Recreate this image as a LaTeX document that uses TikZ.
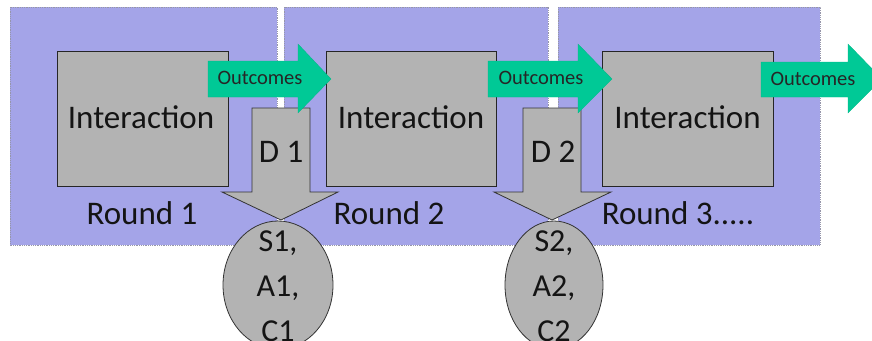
\documentclass[tikz,border=0pt]{standalone}
\usepackage{fontspec}
\setmainfont{Carlito}
\usetikzlibrary{shapes.geometric}
\definecolor{panelc}{RGB}{164,164,232}
\definecolor{panelb}{RGB}{150,150,170}
\definecolor{boxc}{RGB}{179,179,179}
\definecolor{greenc}{RGB}{0,201,150}
\definecolor{txtc}{RGB}{20,20,20}
\tikzset{
  panel/.style={fill=panelc, draw=panelb, densely dotted, line width=0.8pt},
  interbox/.style={fill=boxc, draw=black!85, line width=1pt},
  greenarrow/.style={fill=greenc, draw=greenc!90!black, line width=0.3pt},
  grayarrow/.style={fill=boxc, draw=black!80, line width=0.8pt},
  bigtxt/.style={font=\fontsize{33}{45}\selectfont, text=txtc, inner sep=0pt},
  smalltxt/.style={font=\fontsize{20.5}{24}\selectfont, text=black!85, inner sep=0pt},
  oval/.style={ellipse, fill=boxc, draw=black!80, line width=0.8pt, inner sep=0pt},
  ovaltxt/.style={align=center, inner sep=0pt, font=\fontsize{32}{45}\selectfont, text=txtc}
}
\begin{document}
\begin{tikzpicture}[x=1pt,y=-1pt]
\useasboundingbox (0,0) rectangle (872,340);
% panels
\path[panel] (10,7) rectangle (277,245);
\path[panel] (284,7) rectangle (548,245);
\path[panel] (558,7) rectangle (820,245);
% interaction boxes
\draw[interbox] (57,51) rectangle (228,186);
\draw[interbox] (326,51) rectangle (496,186);
\draw[interbox] (602,51) rectangle (773,186);
\node[bigtxt] (i1) at (141,117) {Interaction};
\node[bigtxt] (i2) at (411,117) {Interaction};
\node[bigtxt] (i3) at (687.5,117) {Interaction};
% round labels
\node[bigtxt] (r1) at (142,213) {Round 1};
\node[bigtxt] (r2) at (389,213) {Round 2};
\node[bigtxt] (r3) at (678,213) {Round 3.....};
% gray down arrows
\draw[grayarrow] (252,108) -- (310,108) -- (310,192) -- (338,192) -- (281,220) -- (222,192) -- (252,192) -- cycle;
\draw[grayarrow] (523,108) -- (581,108) -- (581,192) -- (611,192) -- (552,220) -- (494,192) -- (523,192) -- cycle;
\node[bigtxt] (d1) at (281,152) {D 1};
\node[bigtxt] (d2) at (553,152) {D 2};
% green arrows
\draw[greenarrow] (208,61) -- (298,61) -- (298,44) -- (331,79) -- (298,113) -- (298,97) -- (208,97) -- cycle;
\draw[greenarrow] (488,61) -- (578,61) -- (578,44) -- (612,79) -- (578,113) -- (578,97) -- (488,97) -- cycle;
\draw[greenarrow] (761,62) -- (848,62) -- (848,44) -- (882,79) -- (848,113) -- (848,97) -- (761,97) -- cycle;
\node[smalltxt] (o1) at (260,78) {Outcomes};
\node[smalltxt] (o2) at (541,78) {Outcomes};
\node[smalltxt] (o3) at (813,79) {Outcomes};
% ellipses
\node[oval, minimum width=110pt, minimum height=128pt] (e1) at (278,285) {};
\node[oval, minimum width=98pt, minimum height=128pt] (e2) at (554,285) {};
\node[ovaltxt] (t1) at (278,286) {S1,\\A1,\\C1};
\node[ovaltxt] (t2) at (554,286) {S2,\\A2,\\C2};
\end{tikzpicture}
\end{document}
